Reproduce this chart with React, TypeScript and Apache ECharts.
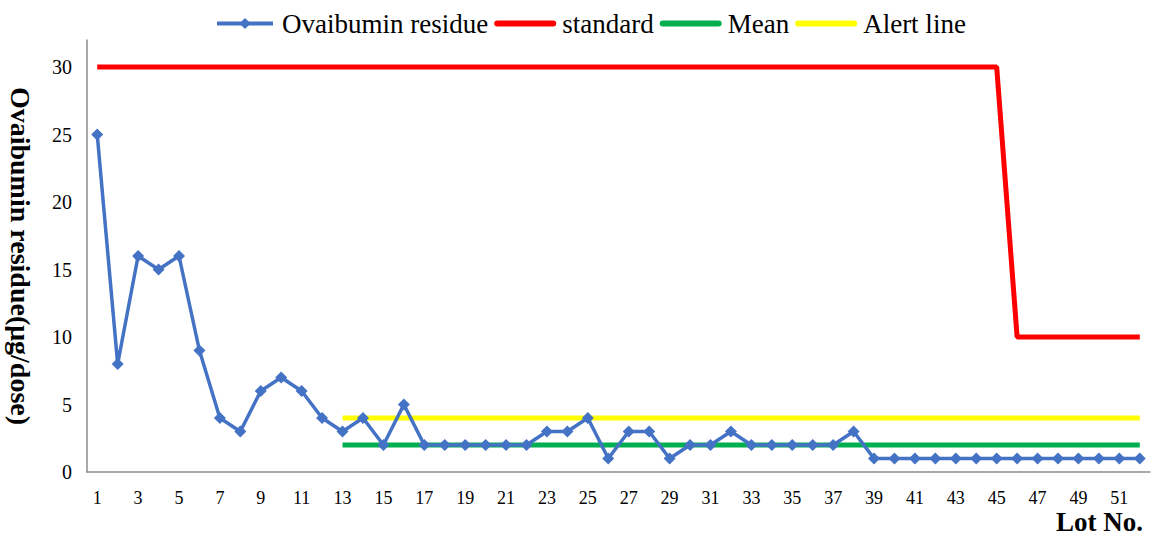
import React, { useEffect, useRef } from "react";
import * as echarts from "echarts";

const lots: string[] = Array.from({ length: 52 }, (_, i) => String(i + 1));
const residue: number[] = [25, 8, 16, 15, 16, 9, 4, 3, 6, 7, 6, 4, 3, 4, 2, 5, 2, 2, 2, 2, 2, 2, 3, 3, 4, 1, 3, 3, 1, 2, 2, 3, 2, 2, 2, 2, 2, 3, 1, 1, 1, 1, 1, 1, 1, 1, 1, 1, 1, 1, 1, 1];
const standard: (number | null)[] = [...Array(45).fill(30), ...Array(7).fill(10)];
const mean: (number | null)[] = [...Array(12).fill(null), ...Array(40).fill(2)];
const alert: (number | null)[] = [...Array(12).fill(null), ...Array(40).fill(4)];

const FONT = "'Liberation Serif', 'Times New Roman', serif";

export default function App() {
  const ref = useRef<HTMLDivElement>(null);
  useEffect(() => {
    if (!ref.current) return;
    const chart = echarts.init(ref.current, undefined, { renderer: "svg" });
    chart.setOption({
      animation: false,
      textStyle: { fontFamily: FONT },
      legend: {
        top: 5,
        left: 210,
        itemWidth: 56,
        itemHeight: 14,
        itemGap: 6,
        textStyle: { fontFamily: FONT, fontSize: 27, color: "#000", padding: [0, 0, 0, 4] },
        data: [
          { name: "Ovaibumin residue", lineStyle: { width: 4 } },
          { name: "standard", lineStyle: { width: 6, cap: "round" }, itemStyle: { opacity: 0 } },
          { name: "Mean", lineStyle: { width: 6, cap: "round" }, itemStyle: { opacity: 0 } },
          { name: "Alert line", lineStyle: { width: 6, cap: "round" }, itemStyle: { opacity: 0 } },
        ],
      },
      grid: { left: 87, right: 8, top: 40, bottom: 64 },
      xAxis: {
        type: "category",
        data: lots,
        boundaryGap: true,
        axisLine: { lineStyle: { color: "#8c8c8c", width: 1.5 } },
        axisTick: { show: false },
        axisLabel: { interval: 1, color: "#000", fontSize: 18, fontFamily: FONT, margin: 17 },
      },
      yAxis: {
        type: "value",
        min: 0,
        max: 32,
        interval: 5,
        axisLine: { show: true, lineStyle: { color: "#8c8c8c", width: 1.5 } },
        axisTick: { show: false },
        splitLine: { show: false },
        axisLabel: { color: "#000", fontSize: 20, fontFamily: FONT, margin: 15, showMaxLabel: false },
      },
      graphic: [
        {
          type: "text",
          x: 20,
          y: 256,
          rotation: -Math.PI / 2,
          style: {
            text: "Ovaibumin residue(μg/dose)",
            font: `bold 28px ${FONT}`,
            fill: "#000",
            align: "center",
            verticalAlign: "middle",
          },
        },
        {
          type: "text",
          x: 1143,
          y: 522,
          style: {
            text: "Lot No.",
            font: `bold 27px ${FONT}`,
            fill: "#000",
            align: "right",
            verticalAlign: "middle",
          },
        },
      ],
      series: [
        {
          name: "Ovaibumin residue",
          type: "line",
          data: residue,
          symbol: "diamond",
          symbolSize: 12,
          lineStyle: { color: "#4472C4", width: 3.5 },
          itemStyle: { color: "#4472C4" },
          z: 5,
        },
        {
          name: "standard",
          type: "line",
          data: standard,
          symbol: "none",
          lineStyle: { color: "#FF0000", width: 5 },
          itemStyle: { color: "#FF0000" },
        },
        {
          name: "Mean",
          type: "line",
          data: mean,
          symbol: "none",
          lineStyle: { color: "#00B050", width: 5 },
          itemStyle: { color: "#00B050" },
        },
        {
          name: "Alert line",
          type: "line",
          data: alert,
          symbol: "none",
          lineStyle: { color: "#FFFF00", width: 5 },
          itemStyle: { color: "#FFFF00" },
        },
      ],
    });
    return () => chart.dispose();
  }, []);
  return (
    <div
      ref={ref}
      style={{ position: "fixed", left: 0, top: 0, width: 1158, height: 536, background: "#fff" }}
    />
  );
}
